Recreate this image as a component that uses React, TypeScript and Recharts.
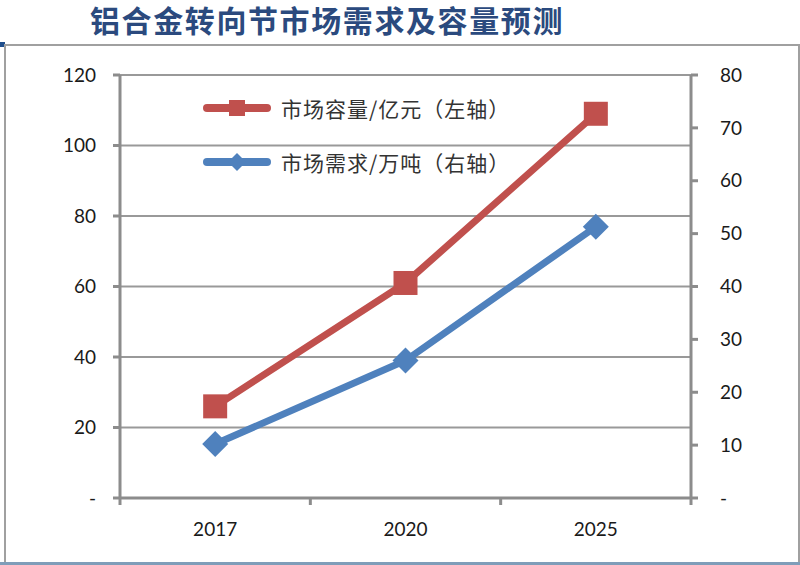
import React from "react"
import { CartesianGrid, Legend, Line, LineChart, XAxis, YAxis } from "recharts"

const years = ["2017", "2020", "2025"]
const capacity = [26, 61, 109] // 市场容量/亿元, left axis
const demand = [10.2, 26, 51.3] // 市场需求/万吨, right axis
const leftTicks = [0, 20, 40, 60, 80, 100, 120]
const rightTicks = [0, 10, 20, 30, 40, 50, 60, 70, 80]

const data = years.map((year, i) => ({ year, capacity: capacity[i], demand: demand[i] }))

const RED = "#C0504D"
const BLUE = "#4F81BD"
const AXIS = "#8c8c8c"
const TICK_FONT = "Lato, 'Open Sans', sans-serif"
const CJK = "'Noto Sans CJK SC', sans-serif"
const X_MARGIN = 24

const fmt = (v: number) => (v === 0 ? "-" : String(v))

function SquareDot(props: any) {
  const { cx, cy } = props
  if (cx == null || cy == null) return null
  return <rect x={cx - 12} y={cy - 12} width={24} height={24} fill={RED} />
}

function DiamondDot(props: any) {
  const { cx, cy } = props
  if (cx == null || cy == null) return null
  const r = 13
  return <polygon points={`${cx},${cy - r} ${cx + r},${cy} ${cx},${cy + r} ${cx - r},${cy}`} fill={BLUE} />
}

function YearTick(props: any) {
  const { x, y, payload, index, visibleTicksCount } = props
  const half = payload.offset || 0
  const axisY = y - X_MARGIN
  return (
    <g>
      <line x1={x - half} x2={x - half} y1={axisY} y2={axisY + 7} stroke={AXIS} strokeWidth={3} />
      {index === visibleTicksCount - 1 && (
        <line x1={x + half} x2={x + half} y1={axisY} y2={axisY + 7} stroke={AXIS} strokeWidth={3} />
      )}
      <text x={x} y={y} dy="0.72em" textAnchor="middle" fill="#1a1a1a" fontSize={19} fontFamily={TICK_FONT}>
        {payload.value}
      </text>
    </g>
  )
}

function LegendBox(props: any) {
  const { payload } = props
  return (
    <div>
      {(payload || []).map((entry: any) => (
        <div key={entry.value} style={{ display: "flex", alignItems: "center", height: 54 }}>
          <svg width={82} height={30}>
            <line x1={11} x2={71} y1={15} y2={15} stroke={entry.color} strokeWidth={8} strokeLinecap="round" />
            {entry.dataKey === "capacity" ? (
              <rect x={33} y={7} width={16} height={16} fill={entry.color} />
            ) : (
              <polygon points="41,6 50,15 41,24 32,15" fill={entry.color} />
            )}
          </svg>
          <span style={{ fontFamily: CJK, fontSize: 21, letterSpacing: 1, color: "#333", marginLeft: 3 }}>
            {entry.value}
          </span>
        </div>
      ))}
    </div>
  )
}

export default function App() {
  return (
    <div style={{ position: "absolute", left: 0, top: 0, width: 800, height: 565, background: "#fff", overflow: "hidden" }}>
      <div
        style={{
          position: "absolute",
          left: 90,
          top: 1,
          fontFamily: CJK,
          fontWeight: 700,
          fontSize: 30,
          letterSpacing: 1.6,
          color: "#2B4A7E",
          lineHeight: "36px",
          whiteSpace: "nowrap",
        }}
      >
        铝合金转向节市场需求及容量预测
      </div>
      <div style={{ position: "absolute", left: 0, top: 42, width: 5, height: 5, background: "#1F4E8C" }} />
      <div style={{ position: "absolute", left: 4, top: 44, width: 792, height: 516, border: "2px solid #a0a0a0" }} />
      <div style={{ position: "absolute", left: 0, top: 562, width: 800, height: 3, background: "#7F9DB9" }} />
      <div style={{ position: "absolute", left: 0, top: 0 }}>
        <LineChart width={800} height={565} data={data} margin={{ top: 75, right: 0, bottom: 0, left: 0 }}>
          <CartesianGrid yAxisId="left" vertical={false} stroke="#999" strokeWidth={2} />
          <XAxis
            dataKey="year"
            scale="band"
            height={67}
            axisLine={{ stroke: AXIS, strokeWidth: 3 }}
            tickLine={false}
            tickSize={0}
            tickMargin={X_MARGIN}
            tick={<YearTick />}
          />
          <YAxis
            yAxisId="left"
            width={120}
            domain={[0, 120]}
            ticks={leftTicks}
            tickFormatter={fmt}
            tickSize={7}
            tickMargin={17}
            axisLine={{ stroke: AXIS, strokeWidth: 3 }}
            tickLine={{ stroke: AXIS, strokeWidth: 3 }}
            tick={{ fill: "#1a1a1a", fontSize: 19, fontFamily: TICK_FONT }}
          />
          <YAxis
            yAxisId="right"
            orientation="right"
            width={109}
            domain={[0, 80]}
            ticks={rightTicks}
            tickFormatter={fmt}
            tickSize={7}
            tickMargin={22}
            axisLine={{ stroke: AXIS, strokeWidth: 3 }}
            tickLine={{ stroke: AXIS, strokeWidth: 3 }}
            tick={{ fill: "#1a1a1a", fontSize: 19, fontFamily: TICK_FONT, textAnchor: "start" }}
          />
          <Legend
            layout="vertical"
            align="center"
            verticalAlign="middle"
            content={<LegendBox />}
            wrapperStyle={{ left: 196, top: 81, width: 360 }}
          />
          <Line
            yAxisId="left"
            dataKey="capacity"
            name="市场容量/亿元（左轴）"
            stroke={RED}
            strokeWidth={7}
            dot={<SquareDot />}
            activeDot={false}
            isAnimationActive={false}
          />
          <Line
            yAxisId="right"
            dataKey="demand"
            name="市场需求/万吨（右轴）"
            stroke={BLUE}
            strokeWidth={7}
            dot={<DiamondDot />}
            activeDot={false}
            isAnimationActive={false}
          />
        </LineChart>
      </div>
    </div>
  )
}
